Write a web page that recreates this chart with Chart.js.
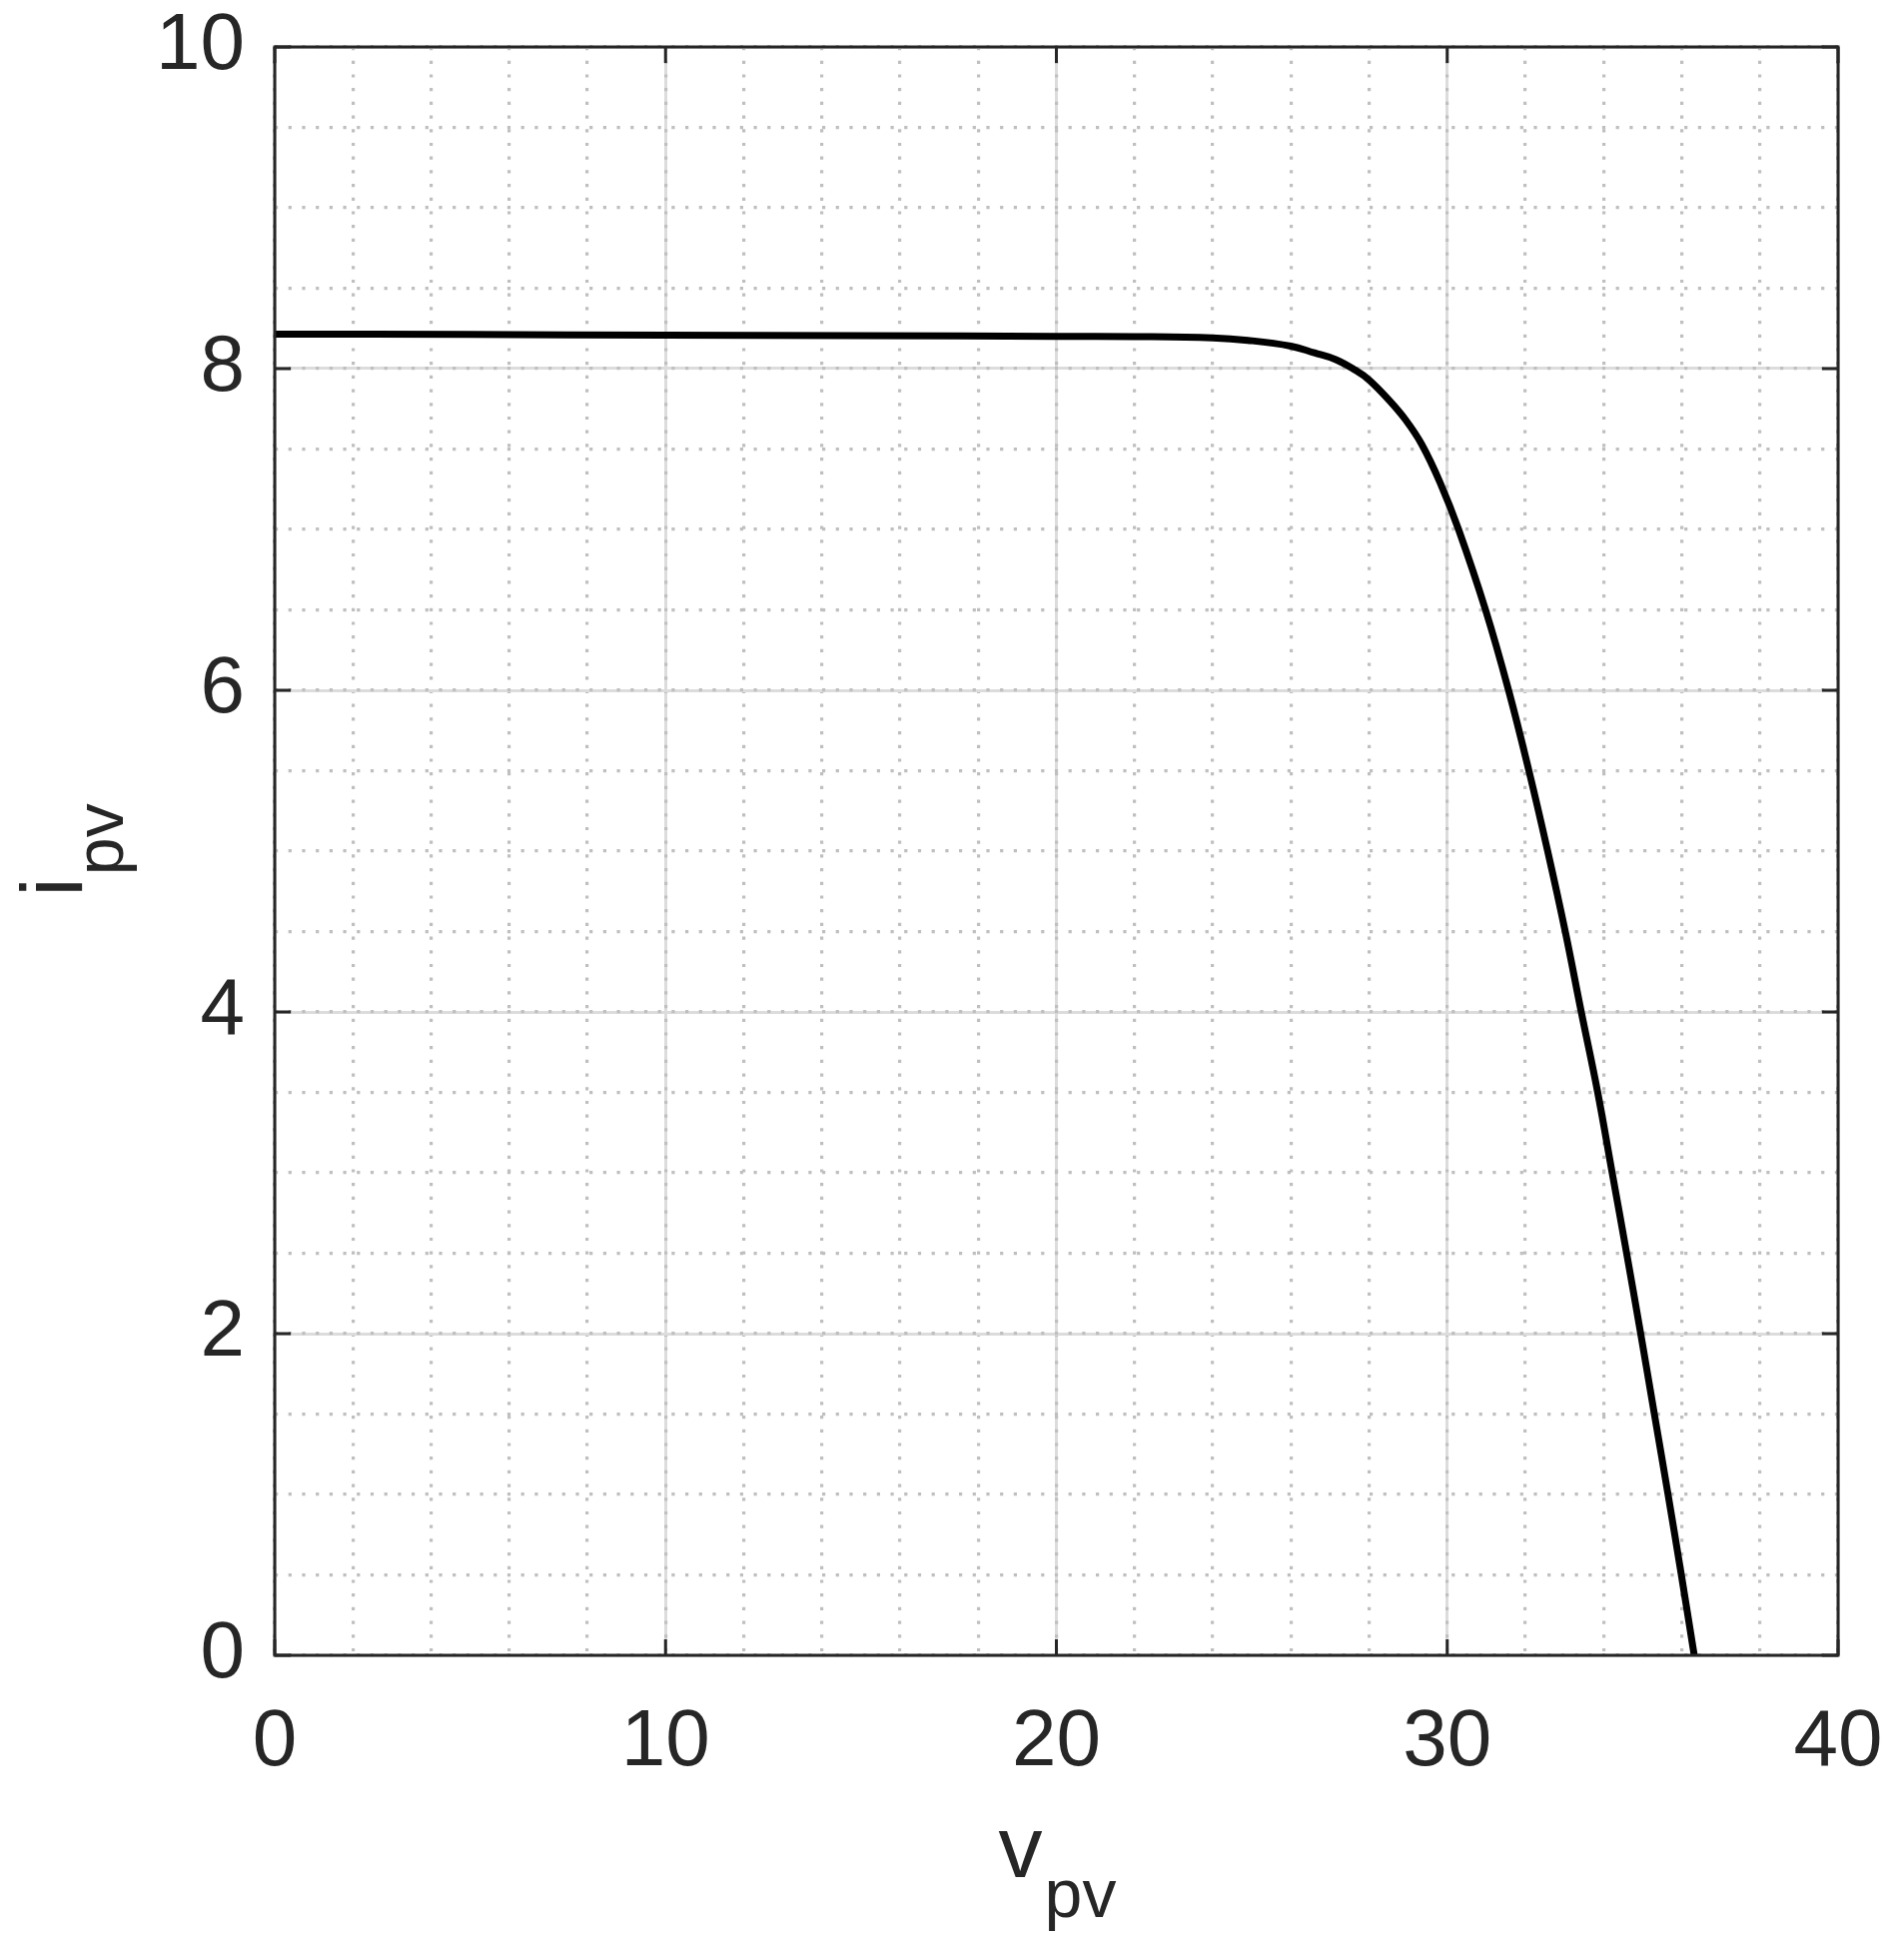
<!DOCTYPE html>
<html>
<head>
<meta charset="utf-8">
<script src="https://cdn.jsdelivr.net/npm/chart.js@4"></script>
<style>
  html, body { margin: 0; padding: 0; background: #fff; }
  #wrap { width: 1906px; height: 1949px; }
</style>
</head>
<body>
<div id="wrap"><canvas id="ivChart" width="1906" height="1949"></canvas></div>
<script>
// PV module I-V curve
const vpv = [0, 5, 10, 15, 20, 22, 24, 24.9, 26, 26.6, 27.15, 27.65, 28, 28.5, 28.93, 29.35, 29.82,
  30.29, 30.98, 31.57, 32.09, 32.57, 33.02, 33.43, 33.85, 34.22, 34.59, 34.95, 35.3, 35.65, 35.99, 36.32];
const ipv = [8.215, 8.212, 8.208, 8.205, 8.201, 8.199, 8.191, 8.176, 8.14, 8.098, 8.056, 7.99, 7.93, 7.807, 7.683, 7.528, 7.29,
  7.0, 6.5, 6.0, 5.5, 5.0, 4.5, 4.0, 3.5, 3.0, 2.5, 2.0, 1.5, 1.0, 0.5, 0];

const xTicks = [0, 10, 20, 30, 40];
const yTicks = [0, 2, 4, 6, 8, 10];
const xMinorStep = 2;
const yMinorStep = 0.5;

const ink = '#262626';
const fontFamily = '"Liberation Sans", Arial, Helvetica, sans-serif';

// stop chart.js from growing the margins for overflowing labels
function noPad(s) {
  s.paddingTop = 0; s.paddingBottom = 0; s.paddingLeft = 0; s.paddingRight = 0;
}

// axes box, inward ticks on all four sides, and the subscripted axis labels
const boxPlugin = {
  id: 'matlabBox',
  afterDraw(chart) {
    const ctx = chart.ctx;
    const a = chart.chartArea;
    const xs = chart.scales.x;
    const ys = chart.scales.y;
    const tl = 16;
    ctx.save();
    ctx.strokeStyle = ink;
    ctx.lineWidth = 3;
    ctx.beginPath();
    xTicks.forEach(v => {
      const px = xs.getPixelForValue(v);
      ctx.moveTo(px, a.bottom); ctx.lineTo(px, a.bottom - tl);
      ctx.moveTo(px, a.top); ctx.lineTo(px, a.top + tl);
    });
    yTicks.forEach(v => {
      const py = ys.getPixelForValue(v);
      ctx.moveTo(a.left, py); ctx.lineTo(a.left + tl, py);
      ctx.moveTo(a.right, py); ctx.lineTo(a.right - tl, py);
    });
    ctx.stroke();
    ctx.strokeRect(a.left, a.top, a.right - a.left, a.bottom - a.top);

    ctx.fillStyle = ink;
    ctx.textBaseline = 'alphabetic';
    ctx.textAlign = 'left';
    const mainFont = '88px ' + fontFamily;
    const subFont = '68px ' + fontFamily;

    // x label: v_pv
    ctx.font = mainFont;
    const wv = ctx.measureText('v').width;
    ctx.font = subFont;
    const wsub = ctx.measureText('pv').width;
    const cx = (a.left + a.right) / 2;
    const x0 = cx - (wv + wsub) / 2;
    ctx.font = mainFont;
    ctx.fillText('v', x0, 1879);
    ctx.font = subFont;
    ctx.fillText('pv', x0 + wv + 2, 1919);

    // y label: i_pv, rotated
    ctx.font = mainFont;
    const wi = ctx.measureText('i').width;
    ctx.font = subFont;
    const wsub2 = ctx.measureText('pv').width;
    ctx.translate(82, (a.top + a.bottom) / 2);
    ctx.rotate(-Math.PI / 2);
    const y0 = -(wi + wsub2) / 2;
    ctx.font = mainFont;
    ctx.fillText('i', y0, 0);
    ctx.font = subFont;
    ctx.fillText('pv', y0 + wi + 2, 41);
    ctx.restore();
  }
};

new Chart(document.getElementById('ivChart'), {
  type: 'line',
  data: {
    datasets: [{
      data: vpv.map((v, i) => ({ x: v, y: ipv[i] })),
      borderColor: '#000000',
      borderWidth: 7,
      pointRadius: 0,
      fill: false,
      tension: 0.4
    }]
  },
  options: {
    responsive: false,
    devicePixelRatio: 1,
    animation: false,
    layout: { padding: { left: 0, top: 47, right: 66, bottom: 0 } },
    plugins: {
      legend: { display: false },
      tooltip: { enabled: false }
    },
    scales: {
      x: {
        type: 'linear',
        position: 'bottom',
        min: 0,
        max: 40,
        afterBuildTicks: s => { s.ticks = xTicks.map(v => ({ value: v })); },
        ticks: { color: ink, font: { size: 80, family: fontFamily }, padding: 40, maxRotation: 0 },
        grid: { color: '#dcdcdc', lineWidth: 3, drawTicks: false },
        border: { display: false },
        afterFit: s => { s.height = 292; noPad(s); }
      },
      x2: {
        type: 'linear',
        position: 'bottom',
        min: 0,
        max: 40,
        z: -1,
        ticks: { display: false, stepSize: xMinorStep },
        grid: { color: '#bfbfbf', lineWidth: 3.2, drawTicks: false },
        border: { display: false, dash: [3.2, 10.5] },
        afterFit: s => { s.height = 0; noPad(s); }
      },
      y: {
        type: 'linear',
        position: 'left',
        min: 0,
        max: 10,
        afterBuildTicks: s => { s.ticks = yTicks.map(v => ({ value: v })); },
        ticks: { color: ink, font: { size: 80, family: fontFamily }, padding: 30 },
        grid: { color: '#dcdcdc', lineWidth: 3, drawTicks: false },
        border: { display: false },
        afterFit: s => { s.width = 275; noPad(s); }
      },
      y2: {
        type: 'linear',
        position: 'left',
        min: 0,
        max: 10,
        z: -1,
        ticks: { display: false, stepSize: yMinorStep },
        grid: { color: '#bfbfbf', lineWidth: 3.2, drawTicks: false },
        border: { display: false, dash: [3.2, 10.5] },
        afterFit: s => { s.width = 0; noPad(s); }
      }
    }
  },
  plugins: [boxPlugin]
});
</script>
</body>
</html>
